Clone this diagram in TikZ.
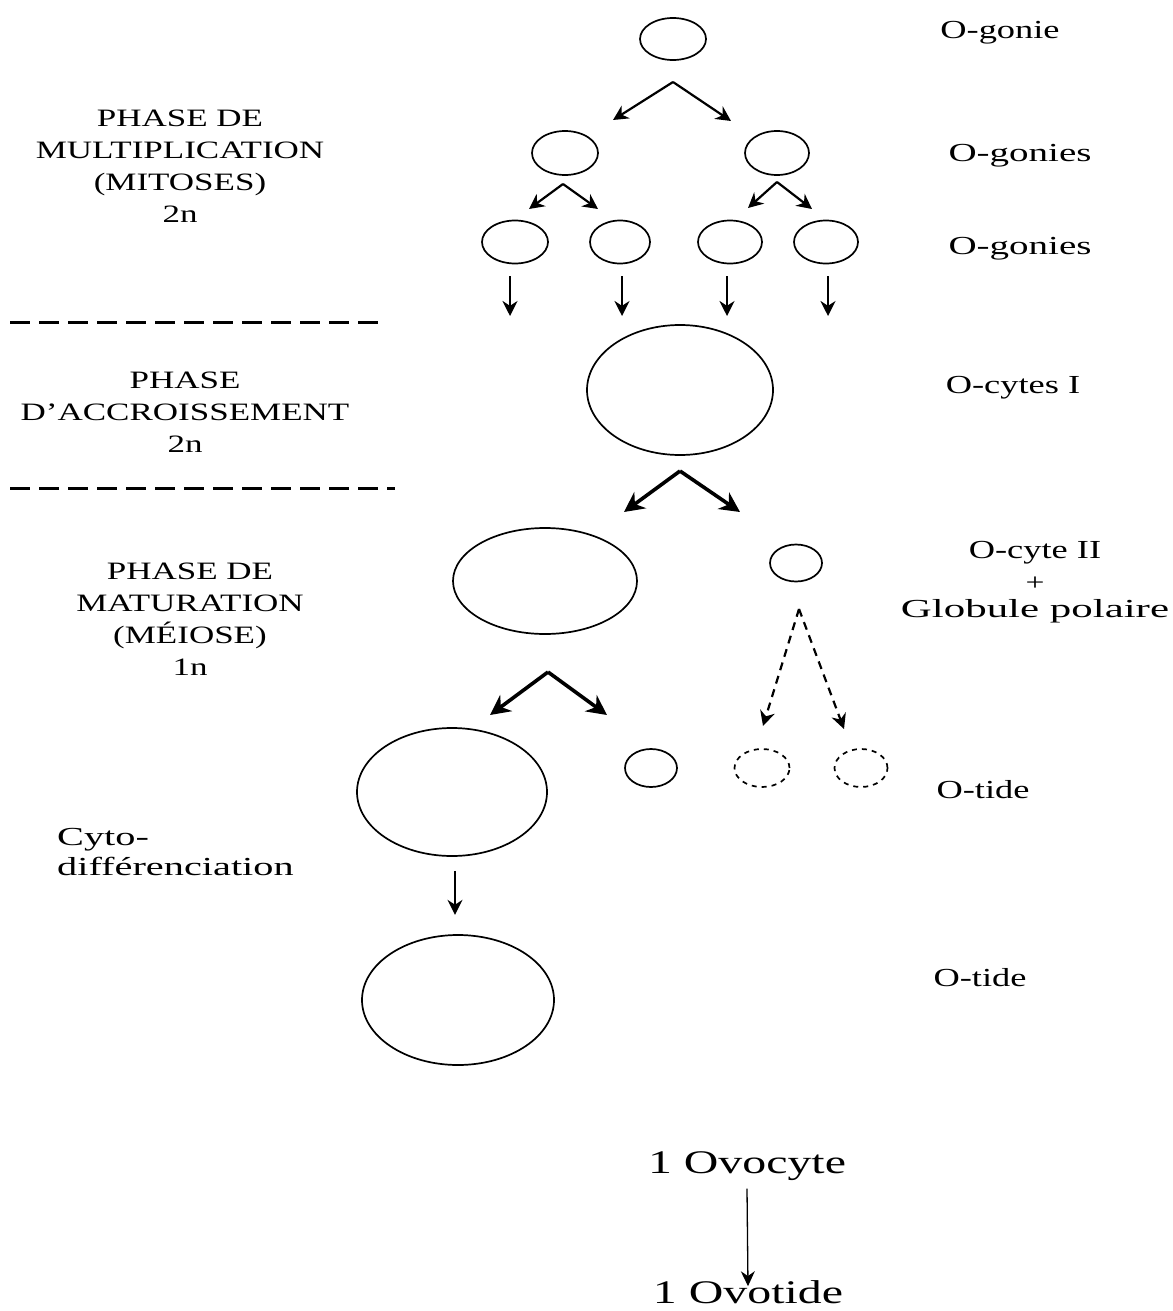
\documentclass[tikz,border=0pt]{standalone}
\usepackage{fontspec}
\setmainfont{Liberation Serif}
\usetikzlibrary{shapes.geometric,arrows.meta}
% horizontally widened text
\newcommand{\hwide}[2][1.4]{\scalebox{#1}[1]{#2}}
\tikzset{
  cell/.style 2 args={ellipse, draw, line width=1.7pt, inner sep=0pt,
    minimum width=#1pt, minimum height=#2pt},
  ghost/.style={dash pattern=on 5pt off 5pt},
  arr/.style={-{Stealth[length=15pt,width=15pt]}, line width=2.2pt},
  boldarr/.style={-{Stealth[length=20pt,width=20pt]}, line width=3.6pt},
  dasharr/.style={arr, dash pattern=on 8pt off 6pt},
  thinarr/.style={-{Stealth[length=15pt,width=14pt]}, line width=1.3pt},
  phase/.style={font=\fontsize{25}{32}\selectfont, inner sep=0pt, align=center},
  stage/.style={font=\fontsize{26}{30}\selectfont, inner sep=0pt},
  plus/.style={font=\fontsize{24}{24}\selectfont, inner sep=0pt},
  big/.style={font=\fontsize{33}{36}\selectfont, inner sep=0pt},
  sep/.style={line width=3pt, dash pattern=on 20pt off 9pt}
}
\begin{document}
\begin{tikzpicture}[x=1pt,y=-1pt]
\useasboundingbox[fill=white] (0,0) rectangle (1172,1311);

% multiplication phase
\node[cell={66}{42}] (og) at (673,39) {};
\coordinate (a0) at (673,82);
\coordinate (t0l) at (613,120);
\coordinate (t0r) at (731,121);
\draw[arr] (a0) -- (t0l);
\draw[arr] (a0) -- (t0r);

\node[cell={66}{44}] (ogl) at (565,153) {};
\node[cell={64}{44}] (ogr) at (777,153) {};
\coordinate (a1) at (563,184);
\coordinate (t1l) at (529,209);
\coordinate (t1r) at (598,209);
\coordinate (a2) at (777,182);
\coordinate (t2l) at (748,208);
\coordinate (t2r) at (812,209);
\draw[arr] (a1) -- (t1l);
\draw[arr] (a1) -- (t1r);
\draw[arr] (a2) -- (t2l);
\draw[arr] (a2) -- (t2r);

\node[cell={66}{43}] (g1) at (515,242) {};
\node[cell={60}{43}] (g2) at (620,242) {};
\node[cell={64}{43}] (g3) at (730,242) {};
\node[cell={64}{43}] (g4) at (826,242) {};
\foreach \n/\x in {1/510,2/622,3/727,4/828}{
  \coordinate (d\n) at (\x,316);
  \draw[arr] (g\n.south -| d\n) ++(0,12) -- (d\n);
}

% growth phase
\node[cell={186}{130}] (oc1) at (680,390) {};
\coordinate (a3) at (680,471);
\coordinate (t3l) at (624,512);
\coordinate (t3r) at (740,512);
\draw[boldarr] (a3) -- (t3l);
\draw[boldarr] (a3) -- (t3r);

% maturation phase
\node[cell={184}{106}] (oc2) at (545,581) {};
\node[cell={52}{37}] (gp) at (796,563) {};
\coordinate (a4) at (548,672);
\coordinate (t4l) at (490,715);
\coordinate (t4r) at (607,715);
\draw[boldarr] (a4) -- (t4l);
\draw[boldarr] (a4) -- (t4r);
\coordinate (a5) at (799,609);
\coordinate (t5l) at (763,726);
\coordinate (t5r) at (844,729);
\draw[dasharr] (a5) -- (t5l);
\draw[dasharr] (a5) -- (t5r);

\node[cell={190}{128}] (ot1) at (452,792) {};
\node[cell={52}{38}] (gp1) at (651,768) {};
\node[cell={55}{38}, ghost] (gp2) at (762,768) {};
\node[cell={53}{38}, ghost] (gp3) at (861,768) {};

\draw[arr] (ot1.south) ++(3,14) coordinate (a6) -- ++(0,44) coordinate (t6);

\node[cell={192}{130}] (ot2) at (458,1000) {};

% phase separators
\draw[sep] (10,322) -- (385,322);
\draw[sep] (10,488) -- (395,488);

% phase captions
\node[phase] (ph1) at (180,168) {\hwide{\begin{tabular}{@{}c@{}}PHASE DE\\MULTIPLICATION\\(MITOSES)\\2n\end{tabular}}};
\node[phase] (ph2) at (185,414) {\hwide{\begin{tabular}{@{}c@{}}PHASE\\D'ACCROISSEMENT\\2n\end{tabular}}};
\node[phase] (ph3) at (190,621) {\hwide{\begin{tabular}{@{}c@{}}PHASE DE\\MATURATION\\(MÉIOSE)\\1n\end{tabular}}};
\node[stage, anchor=west, align=left] (cyto) at (57,854) {\hwide[1.55]{\begin{tabular}{@{}l@{}}Cyto-\\différenciation\end{tabular}}};

% stage names
\node[stage] (l1) at (1000,33) {\hwide{O-gonie}};
\node[stage] (l2) at (1020,156) {\hwide[1.5]{O-gonies}};
\node[stage] (l3) at (1020,249) {\hwide[1.5]{O-gonies}};
\node[stage] (l4) at (1013,388) {\hwide{O-cytes I}};
\node[stage] (l5) at (1035,553) {\hwide{O-cyte II}};
\node[plus] (l6) at (1035,584) {\hwide{+}};
\node[stage] (l7) at (1035,611) {\hwide[1.65]{Globule polaire}};
\node[stage] (l8) at (983,790) {\hwide{O-tide}};
\node[stage] (l9) at (980,978) {\hwide{O-tide}};

% summary
\node[big] (ovo) at (747,1166) {\hwide[1.45]{1 Ovocyte}};
\node[big] (ovt) at (748,1292) {\hwide[1.45]{1 Ovotide}};
\draw[thinarr] (ovo.south) ++(0,8) -- ([yshift=-6pt]ovt.north);
\end{tikzpicture}
\end{document}
